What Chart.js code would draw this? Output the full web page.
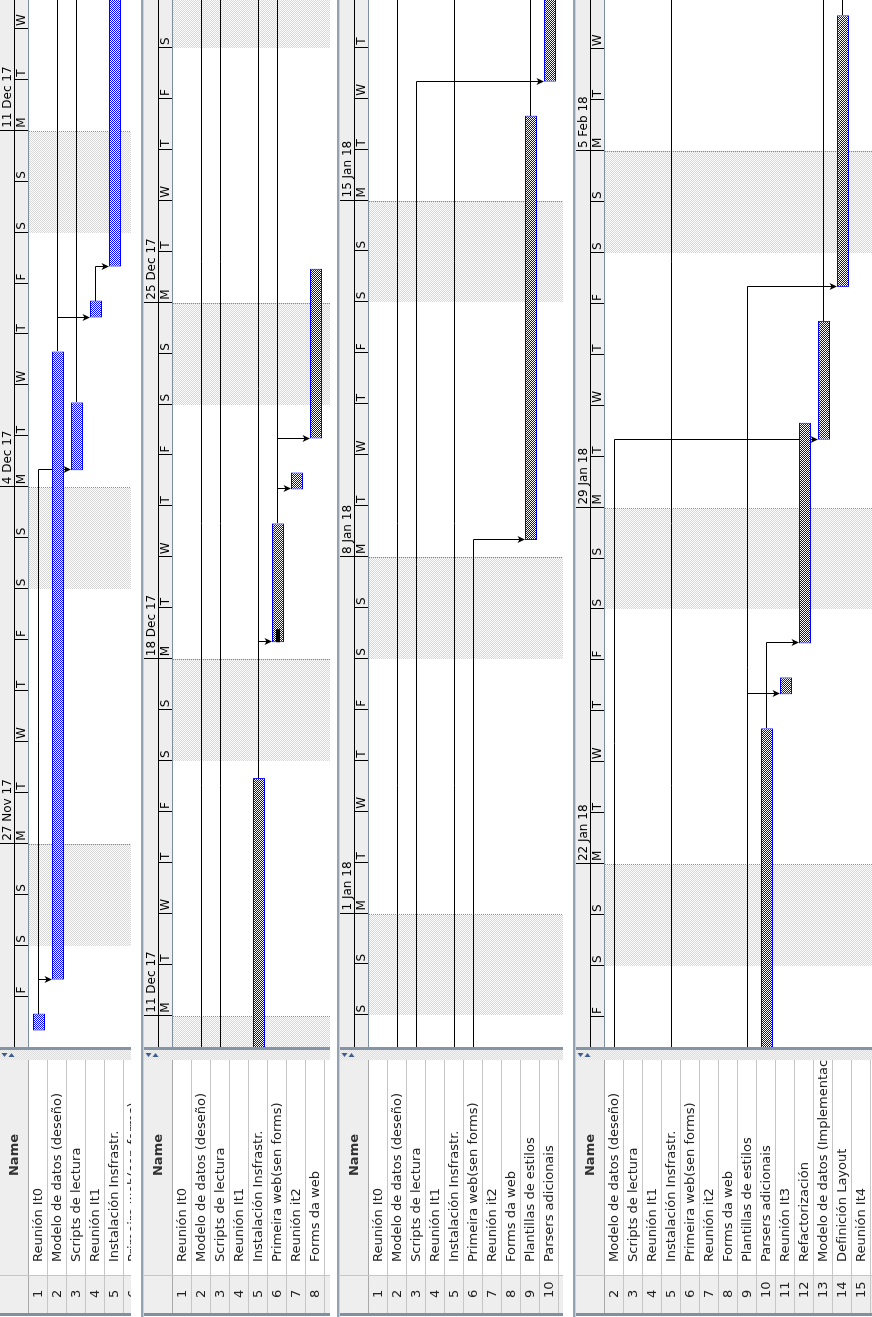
<!DOCTYPE html>
<html lang="gl">
<head>
<meta charset="utf-8">
<title>Diagrama de Gantt</title>
<script src="https://cdn.jsdelivr.net/npm/chart.js@4.4.1/dist/chart.umd.min.js"></script>
<style>
html, body { margin: 0; padding: 0; background: #ffffff; width: 872px; height: 1317px; overflow: hidden; }
.panel { position: absolute; top: 1317px; transform-origin: 0 0; transform: rotate(-90deg); }
.panel canvas { display: block; }
</style>
</head>
<body>
<div class="panel"><canvas id="gantt0"></canvas></div>
<div class="panel"><canvas id="gantt1"></canvas></div>
<div class="panel"><canvas id="gantt2"></canvas></div>
<div class="panel"><canvas id="gantt3"></canvas></div>
<script>
// ---------------- data ----------------
const taskNames = ['Reunión It0', 'Modelo de datos (deseño)', 'Scripts de lectura', 'Reunión It1',
  'Instalación Insfrastr.', 'Primeira web(sen forms)', 'Reunión it2', 'Forms da web',
  'Plantillas de estilos', 'Parsers adicionais', 'Reunión It3', 'Refactorización',
  'Modelo de datos (Implementación)', 'Definición Layout', 'Reunión It4'];
const rowNumbers = ['1', '2', '3', '4', '5', '6', '7', '8', '9', '10', '11', '12', '13', '14', '15'];
const taskStart = ['2017-11-23', '2017-11-24', '2017-12-04', '2017-12-07', '2017-12-08', '2017-12-18',
  '2017-12-21', '2017-12-22', '2018-01-08', '2018-01-17', '2018-01-25', '2018-01-26',
  '2018-01-30', '2018-02-02', '2018-02-08'];
const taskEnd = ['2017-11-23', '2017-12-06', '2017-12-05', '2017-12-07', '2017-12-15', '2017-12-20',
  '2017-12-21', '2017-12-25', '2018-01-16', '2018-01-24', '2018-01-25', '2018-01-30',
  '2018-02-01', '2018-02-07', '2018-02-08'];
const taskProgress = [0, 0, 0, 0, 0, 0.11, 0, 0, 0, 0, 0, 0, 0, 0, 0];
const depFrom = [1, 1, 2, 2, 3, 4, 5, 5, 6, 6, 6, 9, 9, 10, 13, 14];
const depTo   = [2, 3, 4, 13, 10, 5, 6, 15, 7, 8, 9, 11, 14, 12, 15, 15];
const dayLetters = ['M', 'T', 'W', 'T', 'F', 'S', 'S'];
const monthNames = ['Jan', 'Feb', 'Mar', 'Apr', 'May', 'Jun', 'Jul', 'Aug', 'Sep', 'Oct', 'Nov', 'Dec'];
const workDayStartHour = 8;
const workDayEndHour = 16;
const panelViewDate = ['2017-11-23', '2017-12-10', '2017-12-29', '2018-01-18'];
const panelViewHour = [0.24, 9.26, 9.10, 9.82];
const panelFirstRow = [1, 1, 1, 2];

// ---------------- helpers ----------------
const EPOCH = Date.UTC(2017, 10, 20); // a Monday
const DAY_MS = 86400000;
function toDay(s, h) {
  const p = s.split('-').map(Number);
  return (Date.UTC(p[0], p[1] - 1, p[2]) - EPOCH) / DAY_MS + h / 24;
}
const startDay = taskStart.map(s => toDay(s, workDayStartHour));
const endDay = taskEnd.map(s => toDay(s, workDayEndHour));

const LAYOUT = { canvasLen: 1317, chartLeft: 270, pxPerDay: 50.93, rowH: 19, headerH: 29,
  tableLeft: 4, numColRight: 42, tableRight: 257, dividerRight: 267 };
const PANELS = [
  { left: 0, height: 131, border: 0 },
  { left: 141, height: 189, border: 3 },
  { left: 337, height: 226, border: 3 },
  { left: 573, height: 299, border: 3 }
];

Chart.defaults.font.family = "'DejaVu Sans', 'Liberation Sans', sans-serif";

function checker(ctx, a, b) {
  const c = document.createElement('canvas');
  c.width = 2; c.height = 2;
  const g = c.getContext('2d');
  g.fillStyle = b; g.fillRect(0, 0, 2, 2);
  g.fillStyle = a; g.fillRect(0, 0, 1, 1); g.fillRect(1, 1, 1, 1);
  return ctx.createPattern(c, 'repeat');
}
function weekday(v) { return ((Math.round(v) % 7) + 7) % 7; }
function weekLabel(v) {
  const dt = new Date(EPOCH + Math.round(v) * DAY_MS);
  return dt.getUTCDate() + ' ' + monthNames[dt.getUTCMonth()] + ' ' + String(dt.getUTCFullYear()).slice(2);
}
const PATTERNS = {};

const ganttPlugin = {
  id: 'gantt',
  afterLayout(chart, args, o) {
    const W = chart.width, H = chart.height, b = o.border;
    const top = b + LAYOUT.headerH;
    const ca = chart.chartArea;
    ca.left = LAYOUT.chartLeft; ca.right = W; ca.width = W - LAYOUT.chartLeft;
    ca.top = top; ca.bottom = H; ca.height = H - top;
    ['y', 'yn'].forEach(id => {
      const s = chart.scales[id];
      s.top = top; s.bottom = H; s.height = H - top;
      s.min = o.yMin; s.max = o.yMin + (H - top) / LAYOUT.rowH;
      s.configure();
    });
    const sx = chart.scales.x, sw = chart.scales.xw;
    [sx, sw].forEach(s => { s.left = LAYOUT.chartLeft; s.right = W; s.width = W - LAYOUT.chartLeft; });
    sw.top = b; sw.bottom = b + 15; sw.height = 15;
    sx.top = b + 15; sx.bottom = b + 29; sx.height = 14;
    sx.configure(); sw.configure();
  },
  beforeDraw(chart, args, o) {
    const ctx = chart.ctx, W = chart.width, H = chart.height, ca = chart.chartArea;
    const xs = chart.scales.x, ys = chart.scales.y;
    const b = o.border;
    ctx.save();
    ctx.fillStyle = '#ffffff'; ctx.fillRect(0, 0, W, H);
    // timeline header
    ctx.fillStyle = '#eeeeee'; ctx.fillRect(ca.left, b, ca.right - ca.left, 28);
    ctx.fillStyle = '#000000';
    ctx.fillRect(ca.left, b + 14, ca.right - ca.left, 1);
    xs.ticks.forEach(t => {
      const u = Math.round(xs.getPixelForValue(t.value));
      const monday = weekday(t.value) === 0;
      ctx.fillRect(u, monday ? b : b + 15, 1, monday ? 28 : 13);
    });
    ctx.fillStyle = '#7d8da0'; ctx.fillRect(ca.left, b + 28, ca.right - ca.left, 1);
    // table
    const tl = LAYOUT.tableLeft, tr = LAYOUT.tableRight, nc = LAYOUT.numColRight;
    ctx.fillStyle = '#eeeeee';
    ctx.fillRect(tl, b, nc - tl, H - b);
    ctx.fillRect(nc, b, tr - nc, 29);
    ctx.fillStyle = '#a9a9a9'; ctx.fillRect(tl, b + 28, tr - tl, 1);
    ctx.fillStyle = '#c6c6c6';
    for (let r = 1; r <= taskNames.length; r++) {
      const v = Math.round(ys.getPixelForValue(r)) + 8;
      if (v > b + 28 && v < H) ctx.fillRect(tl, v, tr - tl, 1);
    }
    ctx.fillRect(nc - 1, b, 1, H - b);
    ctx.fillStyle = '#333333';
    ctx.font = "bold 13px 'DejaVu Sans', sans-serif";
    ctx.textAlign = 'center'; ctx.textBaseline = 'middle';
    ctx.fillText('Name', 162, b + 14.5);
    ctx.restore();
  },
  beforeDatasetsDraw(chart, args, o) {
    const ctx = chart.ctx, ca = chart.chartArea;
    const xs = chart.scales.x, ys = chart.scales.y;
    const pat = PATTERNS[chart.canvas.id];
    ctx.save();
    ctx.beginPath(); ctx.rect(ca.left, ca.top, ca.right - ca.left, ca.bottom - ca.top); ctx.clip();
    ctx.fillStyle = '#ffffff'; ctx.fillRect(ca.left, ca.top, ca.right - ca.left, ca.bottom - ca.top);
    // weekends
    for (let d = Math.floor(xs.min) - 7; d <= Math.ceil(xs.max); d++) {
      if (weekday(d) === 5) {
        const a = Math.round(xs.getPixelForValue(d)), e = Math.round(xs.getPixelForValue(d + 2));
        ctx.fillStyle = pat.shade; ctx.fillRect(a, ca.top, e - a, ca.bottom - ca.top);
      }
    }
    ctx.strokeStyle = '#8c8c8c'; ctx.lineWidth = 1; ctx.setLineDash([1, 1]);
    for (let d = Math.floor(xs.min); d <= Math.ceil(xs.max); d++) {
      if (weekday(d) === 0) {
        const u = Math.round(xs.getPixelForValue(d)) - 0.5;
        ctx.beginPath(); ctx.moveTo(u, ca.top); ctx.lineTo(u, ca.bottom); ctx.stroke();
      }
    }
    ctx.setLineDash([]);
    // dependencies
    ctx.strokeStyle = '#000000'; ctx.fillStyle = '#000000';
    depFrom.forEach((fr, k) => {
      const to = depTo[k];
      const uA = Math.round(xs.getPixelForValue(endDay[fr - 1]));
      const uB = Math.round(xs.getPixelForValue(startDay[to - 1])) + 0.5;
      const vA = Math.round(ys.getPixelForValue(fr)) - 0.5;
      const vTip = Math.round(ys.getPixelForValue(to)) - 6;
      ctx.beginPath(); ctx.moveTo(uA, vA); ctx.lineTo(uB, vA); ctx.lineTo(uB, vTip - 4); ctx.stroke();
      ctx.beginPath();
      ctx.moveTo(uB, vTip); ctx.lineTo(uB - 3.5, vTip - 7.5); ctx.lineTo(uB, vTip - 5.5);
      ctx.lineTo(uB + 3.5, vTip - 7.5); ctx.closePath(); ctx.fill();
    });
    ctx.restore();
  },
  afterDraw(chart, args, o) {
    const ctx = chart.ctx, W = chart.width, H = chart.height;
    const b = o.border;
    const pat = PATTERNS[chart.canvas.id];
    ctx.save();
    ctx.fillStyle = pat.divider;
    ctx.fillRect(LAYOUT.tableRight, 0, LAYOUT.dividerRight - LAYOUT.tableRight, H);
    ctx.fillStyle = '#8594a6';
    ctx.fillRect(LAYOUT.dividerRight, 0, LAYOUT.chartLeft - LAYOUT.dividerRight, H);
    ctx.fillStyle = '#3d5d8e';
    ctx.beginPath(); ctx.moveTo(260, b + 4.5); ctx.lineTo(264, b + 1.5); ctx.lineTo(264, b + 7.5); ctx.closePath(); ctx.fill();
    ctx.beginPath(); ctx.moveTo(264, b + 11.5); ctx.lineTo(260, b + 8.5); ctx.lineTo(260, b + 14.5); ctx.closePath(); ctx.fill();
    ctx.fillStyle = '#8090a3'; ctx.fillRect(1, 0, 3, H);
    if (b > 0) {
      ctx.fillStyle = '#95a2b1'; ctx.fillRect(0, 0, W, b);
      ctx.fillStyle = '#c9d0d8'; ctx.fillRect(0, b - 1, W, 1);
    }
    ctx.restore();
  }
};

function flatAxis(extra) {
  return Object.assign({
    offset: false,
    grid: { display: false, drawTicks: false, offset: false },
    border: { display: false }
  }, extra);
}

PANELS.forEach((P, i) => {
  const canvas = document.getElementById('gantt' + i);
  canvas.width = LAYOUT.canvasLen; canvas.height = P.height;
  canvas.style.width = LAYOUT.canvasLen + 'px'; canvas.style.height = P.height + 'px';
  const wrap = canvas.parentElement;
  wrap.style.left = P.left + 'px';
  wrap.style.width = LAYOUT.canvasLen + 'px';
  wrap.style.height = P.height + 'px';
  const ctx = canvas.getContext('2d');
  PATTERNS[canvas.id] = {
    bar: checker(ctx, '#0000ff', '#ffffff'),
    shade: checker(ctx, '#d6d6d6', '#ffffff'),
    divider: checker(ctx, '#dcdcdc', '#f6f6f6')
  };
  const xMin = toDay(panelViewDate[i], panelViewHour[i]);
  const xMax = xMin + (LAYOUT.canvasLen - LAYOUT.chartLeft) / LAYOUT.pxPerDay;
  const areaH = P.height - P.border - LAYOUT.headerH;
  const yMin = panelFirstRow[i] - 10 / LAYOUT.rowH;
  const yMax = yMin + areaH / LAYOUT.rowH;

  const taskData = taskNames.map((n, k) => ({ x: [startDay[k], endDay[k]], y: k + 1 }));
  const progressData = taskNames.map((n, k) => ({ x: [startDay[k], startDay[k] + taskProgress[k] * (endDay[k] - startDay[k])], y: k + 1 }))
    .filter((d, k) => taskProgress[k] > 0);

  const rowTicks = s => {
    const out = [];
    for (let r = 1; r <= taskNames.length; r++) if (r > s.min && r - 0.2 < s.max) out.push({ value: r });
    s.ticks = out;
  };
  const dayTicks = onlyMondays => s => {
    const out = [];
    for (let d = Math.ceil(s.min); d <= Math.floor(s.max); d++) {
      if (!onlyMondays || weekday(d) === 0) out.push({ value: d });
    }
    s.ticks = out;
  };

  new Chart(ctx, {
    type: 'bar',
    data: {
      datasets: [
        { label: 'Progreso', data: progressData, backgroundColor: '#000000', borderWidth: 0,
          barThickness: 4, stack: 'row', inflateAmount: 0, order: 1 },
        { label: 'Tarefas', data: taskData, backgroundColor: PATTERNS[canvas.id].bar, borderColor: '#0000ff',
          borderWidth: 1, borderSkipped: false, barThickness: 12, stack: 'row', inflateAmount: 0, order: 2 }
      ]
    },
    options: {
      indexAxis: 'y',
      responsive: false,
      animation: false,
      devicePixelRatio: 1,
      events: [],
      layout: { autoPadding: false, padding: { left: 19, top: P.border, right: 0, bottom: 0 } },
      plugins: { legend: { display: false }, tooltip: { enabled: false }, gantt: { border: P.border, yMin: yMin } },
      scales: {
        x: flatAxis({
          type: 'linear', position: 'top', min: xMin, max: xMax, weight: 1, stacked: false,
          ticks: { autoSkip: false, maxRotation: 0, minRotation: 0, align: 'start',
            labelOffset: 3, padding: 1, color: '#000000', font: { size: 12, lineHeight: 1 },
            callback: v => dayLetters[weekday(v)] },
          afterBuildTicks: dayTicks(false),
          afterFit: s => { s.height = 14; s.paddingLeft = 0; s.paddingRight = 0; }
        }),
        xw: flatAxis({
          type: 'linear', position: 'top', min: xMin, max: xMax, weight: 2,
          ticks: { autoSkip: false, maxRotation: 0, minRotation: 0, align: 'start',
            labelOffset: 3, padding: 1, color: '#000000', font: { size: 12, lineHeight: 1 },
            callback: v => weekLabel(v) },
          afterBuildTicks: dayTicks(true),
          afterFit: s => { s.height = 15; s.paddingLeft = 0; s.paddingRight = 0; }
        }),
        y: flatAxis({
          type: 'linear', position: 'left', reverse: true, min: yMin, max: yMax, weight: 1,
          ticks: { autoSkip: false, crossAlign: 'far', padding: 0, color: '#222222', font: { size: 13 },
            callback: v => taskNames[v - 1] || '' },
          afterBuildTicks: rowTicks,
          afterFit: s => { s.width = 215; s.paddingTop = 0; s.paddingBottom = 0; }
        }),
        yn: flatAxis({
          type: 'linear', position: 'left', reverse: true, min: yMin, max: yMax, weight: 2,
          ticks: { autoSkip: false, crossAlign: 'far', padding: 0, color: '#222222', font: { size: 13 },
            callback: v => rowNumbers[v - 1] || '' },
          afterBuildTicks: rowTicks,
          afterFit: s => { s.width = 36; s.paddingTop = 0; s.paddingBottom = 0; }
        })
      }
    },
    plugins: [ganttPlugin]
  });
});
</script>
</body>
</html>
